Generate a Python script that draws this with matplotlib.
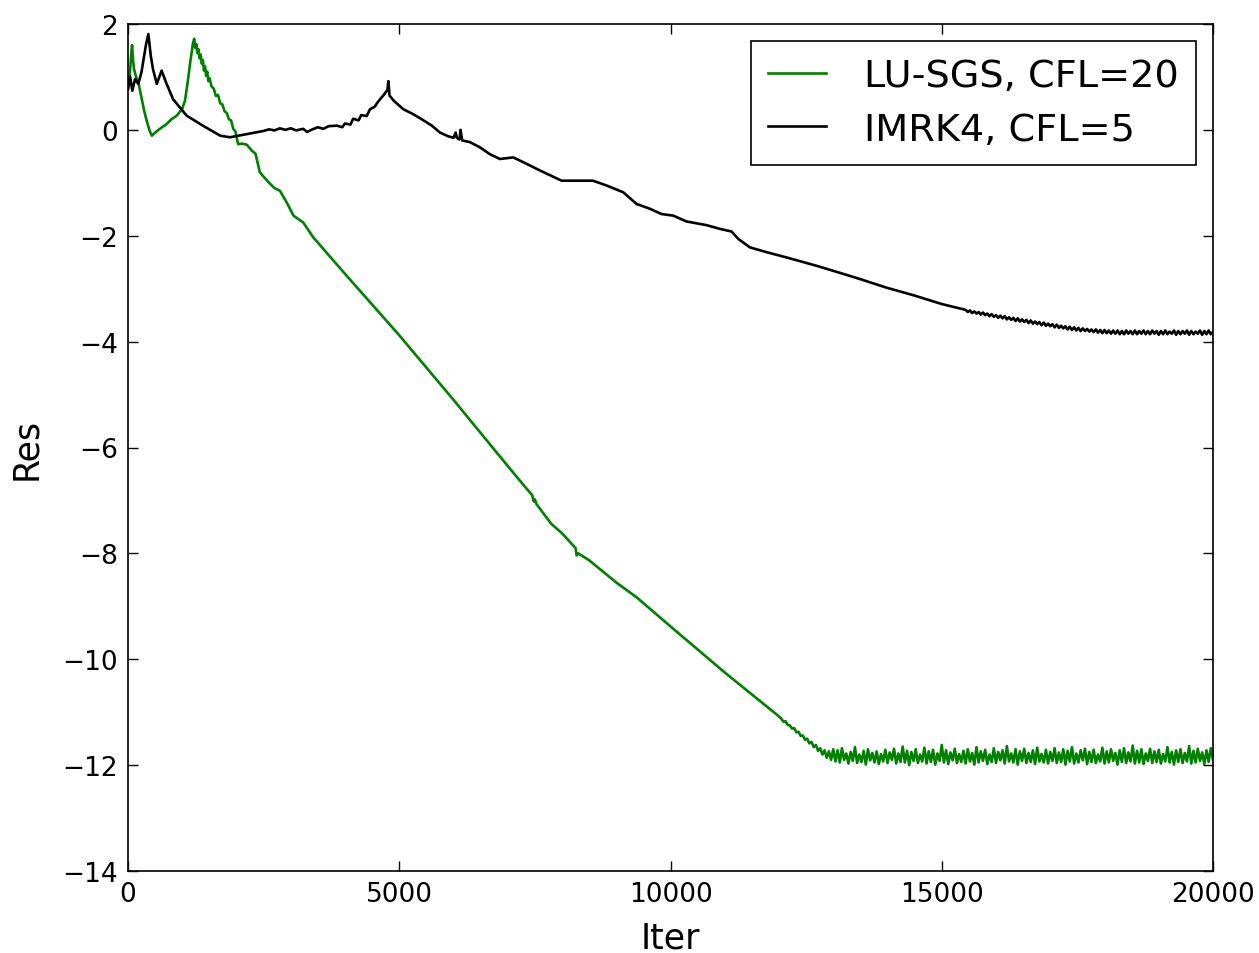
import numpy as np
import matplotlib
matplotlib.use("Agg")
import matplotlib.pyplot as plt

# ---------------- data ----------------
lusgs_label = "LU-SGS, CFL=20"
imrk_label = "IMRK4, CFL=5"

# LU-SGS (green) - hand-read key points
green_iter = [0, 30, 60, 75, 95, 110, 150, 200, 250, 300, 350, 400, 440, 500, 600, 700,
              800, 900, 1000, 1050, 1100, 1150, 1200, 1220, 1240, 1260, 1280, 1300, 1320,
              1340, 1360, 1380, 1400, 1420, 1440, 1460, 1480, 1500, 1540, 1580, 1620, 1660,
              1700, 1740, 1780, 1820, 1860, 1900, 1940, 1980, 2030, 2100, 2190, 2280, 2350,
              2430, 2530, 2620, 2700, 2800, 2925, 3050, 3230, 3415, 4000, 5000, 6000, 7000,
              7300, 7450, 7480, 7500, 7530, 7800, 8000, 8250, 8270, 8300, 8500, 9000, 9375,
              10000, 11000, 12000]
green_res = [0.78, 1.0, 1.45, 1.6, 1.3, 1.15, 1.0, 0.85, 0.6, 0.35, 0.15, -0.02, -0.11, -0.05,
             0.03, 0.1, 0.2, 0.27, 0.4, 0.55, 0.9, 1.3, 1.65, 1.72, 1.55, 1.62, 1.45, 1.52,
             1.35, 1.42, 1.25, 1.32, 1.12, 1.2, 1.02, 1.1, 0.92, 0.98, 0.82, 0.78, 0.64, 0.66,
             0.5, 0.48, 0.35, 0.32, 0.2, 0.18, 0.02, -0.03, -0.27, -0.26, -0.28, -0.39, -0.45,
             -0.8, -0.92, -1.02, -1.1, -1.15, -1.37, -1.62, -1.75, -2.03, -2.72, -3.88, -5.1,
             -6.35, -6.72, -6.9, -7.02, -6.98, -7.07, -7.44, -7.62, -7.9, -8.04, -8.0, -8.13,
             -8.55, -8.83, -9.38, -10.25, -11.08]

# LU-SGS noisy plateau, sampled every 40 iterations from 12040 to 20000
green_tail_iter = np.arange(12040, 20001, 40)
green_tail_res = [
    -11.12, -11.18, -11.17, -11.24, -11.25, -11.31, -11.30, -11.38, -11.37, -11.45,
    -11.44, -11.52, -11.50, -11.59, -11.56, -11.66, -11.62, -11.73, -11.68, -11.80,
    -11.72, -11.86, -11.74, -11.90, -11.70,
    -11.93, -11.72, -11.95, -11.68, -11.90, -11.78, -11.97, -11.75, -11.92, -11.66,
    -11.96, -11.80, -11.94, -11.73, -11.99, -11.70, -11.91, -11.77, -11.95, -11.74,
    -11.98, -11.79, -11.93, -11.71, -11.96, -11.76, -11.90, -11.69, -11.97, -11.78,
    -11.94, -11.65, -11.95, -11.73, -12.00, -11.75, -11.92, -11.70, -11.96, -11.80,
    -11.93, -11.67, -11.97, -11.74, -11.94, -11.71, -11.99, -11.78, -11.92, -11.62,
    -11.95, -11.72, -11.98, -11.76, -11.91, -11.69, -11.96, -11.79, -11.94, -11.73,
    -11.97, -11.70, -11.93, -11.77, -11.99, -11.66, -11.95, -11.74, -11.92, -11.71,
    -11.98, -11.80, -11.94, -11.68, -11.96, -11.75, -11.91, -11.72, -11.97, -11.64,
    -11.93, -11.78, -11.95, -11.70, -11.99, -11.74, -11.92, -11.69, -11.96, -11.77,
    -11.94, -11.72, -11.98, -11.67, -11.93, -11.79, -11.95, -11.71, -11.97, -11.75,
    -11.92, -11.68, -11.96, -11.76, -11.94, -11.70, -11.99, -11.73, -11.93, -11.66,
    -11.97, -11.78, -11.95, -11.72, -11.91, -11.69, -11.98, -11.75, -11.94, -11.71,
    -11.96, -11.80, -11.93, -11.67, -11.97, -11.74, -11.95, -11.70, -11.92, -11.77,
    -11.99, -11.72, -11.94, -11.68, -11.96, -11.76, -11.93, -11.63, -11.97, -11.73,
    -11.95, -11.70, -11.98, -11.78, -11.92, -11.69, -11.96, -11.74, -11.94, -11.71,
    -11.97, -11.79, -11.93, -11.66, -11.95, -11.75, -11.99, -11.72, -11.94, -11.70,
    -11.96, -11.77, -11.93, -11.64, -11.97, -11.73, -11.95, -11.69, -11.92, -11.76,
    -11.98, -11.72, -11.94, -11.68, -11.90]

# IMRK4 (black) - hand-read key points
black_iter = [0, 40, 80, 130, 190, 250, 330, 375, 420, 460, 530, 620, 700, 830, 1080, 1380,
              1700, 1880, 2190, 2500, 2600, 2700, 2800, 2900, 3000, 3100, 3230, 3300, 3400,
              3500, 3600, 3700, 3850, 3950, 4000, 4100, 4150, 4250, 4300, 4400, 4460, 4550,
              4600, 4705, 4780, 4800, 4820, 4900, 5075, 5250, 5400, 5600, 5750, 5900, 6000,
              6040, 6060, 6090, 6110, 6130, 6160, 6300, 6488, 6672, 6856, 7100, 7285, 7600,
              7993, 8270, 8570, 8820, 9130, 9375, 9620, 9835, 10050, 10295, 10665, 10910,
              11125, 11250, 11465, 11770, 12140, 12700, 13120, 13500, 13980, 14500, 15000,
              15400]
black_res = [0.77, 1.0, 0.74, 0.96, 0.87, 1.1, 1.6, 1.81, 1.4, 1.15, 0.87, 1.12, 0.9, 0.58,
             0.27, 0.08, -0.11, -0.14, -0.08, -0.02, 0.01, -0.01, 0.03, 0.0, 0.03, -0.01,
             0.02, -0.04, 0.01, 0.05, 0.02, 0.07, 0.08, 0.05, 0.12, 0.1, 0.21, 0.18, 0.28,
             0.26, 0.39, 0.44, 0.52, 0.65, 0.75, 0.92, 0.65, 0.55, 0.39, 0.3, 0.21, 0.08,
             -0.05, -0.12, -0.15, -0.05, -0.15, -0.17, -0.18, 0.0, -0.2, -0.23, -0.33, -0.46,
             -0.55, -0.52, -0.61, -0.77, -0.96, -0.96, -0.96, -1.05, -1.18, -1.40, -1.49,
             -1.59, -1.62, -1.73, -1.80, -1.87, -1.92, -2.06, -2.22, -2.31, -2.41, -2.57,
             -2.70, -2.82, -2.98, -3.13, -3.29, -3.39]

# IMRK4 noisy tail, sampled every 40 iterations from 15440 to 20000
black_tail_iter = np.arange(15440, 20001, 40)
black_tail_res = [
    -3.40, -3.44, -3.41, -3.46, -3.43, -3.47, -3.44, -3.49, -3.45, -3.50,
    -3.47, -3.52, -3.48, -3.53, -3.50, -3.55, -3.51, -3.56, -3.52, -3.58,
    -3.54, -3.59, -3.55, -3.61, -3.56, -3.62, -3.58, -3.63, -3.59, -3.65,
    -3.60, -3.66, -3.62, -3.67, -3.63, -3.69, -3.64, -3.70, -3.66, -3.71,
    -3.67, -3.73, -3.68, -3.74, -3.70, -3.75, -3.71, -3.77, -3.72, -3.78,
    -3.73, -3.79, -3.74, -3.80, -3.75, -3.80, -3.76, -3.81, -3.77, -3.82,
    -3.77, -3.83, -3.78, -3.84, -3.78, -3.84, -3.79, -3.85, -3.79, -3.85,
    -3.79, -3.86, -3.80, -3.86, -3.79, -3.85, -3.80, -3.86, -3.79, -3.86,
    -3.80, -3.85, -3.79, -3.86, -3.80, -3.86, -3.79, -3.85, -3.80, -3.87,
    -3.80, -3.86, -3.79, -3.86, -3.81, -3.85, -3.79, -3.87, -3.80, -3.86,
    -3.80, -3.85, -3.79, -3.87, -3.80, -3.86, -3.81, -3.85, -3.79, -3.87,
    -3.80, -3.86, -3.79, -3.86, -3.82]

x_ticks = [0, 5000, 10000, 15000, 20000]
y_ticks = [2, 0, -2, -4, -6, -8, -10, -12, -14]

# ---------------- plot ----------------
plt.rcParams['font.family'] = ['DejaVu Sans']
fig = plt.figure(figsize=(12.59, 9.54), dpi=100)
ax = fig.add_axes([128 / 1259, 1 - 872 / 954, (1213 - 128) / 1259, (872 - 25) / 954])

gx = list(green_iter) + list(green_tail_iter)
gy = list(green_res) + list(green_tail_res)
bx = list(black_iter) + list(black_tail_iter)
by = list(black_res) + list(black_tail_res)

ax.plot(gx, gy, color='#008000', lw=1.9, label=lusgs_label)
ax.plot(bx, by, color='black', lw=1.9, label=imrk_label)

ax.set_xlim(0, 20000)
ax.set_ylim(-14, 2)
ax.set_xticks(x_ticks)
ax.set_yticks(y_ticks)
ax.tick_params(direction='in', length=7, width=1, top=True, right=True,
               labelsize=19, pad=7)
for s in ax.spines.values():
    s.set_linewidth(1.2)

ax.set_xlabel('Iter', fontsize=25, labelpad=10)
ax.set_ylabel('Res', fontsize=25, labelpad=14)

leg = ax.legend(loc='upper right', fontsize=27.5, handlelength=1.5, handletextpad=1.0,
                borderpad=0.45, labelspacing=0.45,
                fancybox=False, framealpha=1, edgecolor='black', borderaxespad=0.45)
leg.get_frame().set_linewidth(1.2)

fig.savefig('out.png', dpi=100)
